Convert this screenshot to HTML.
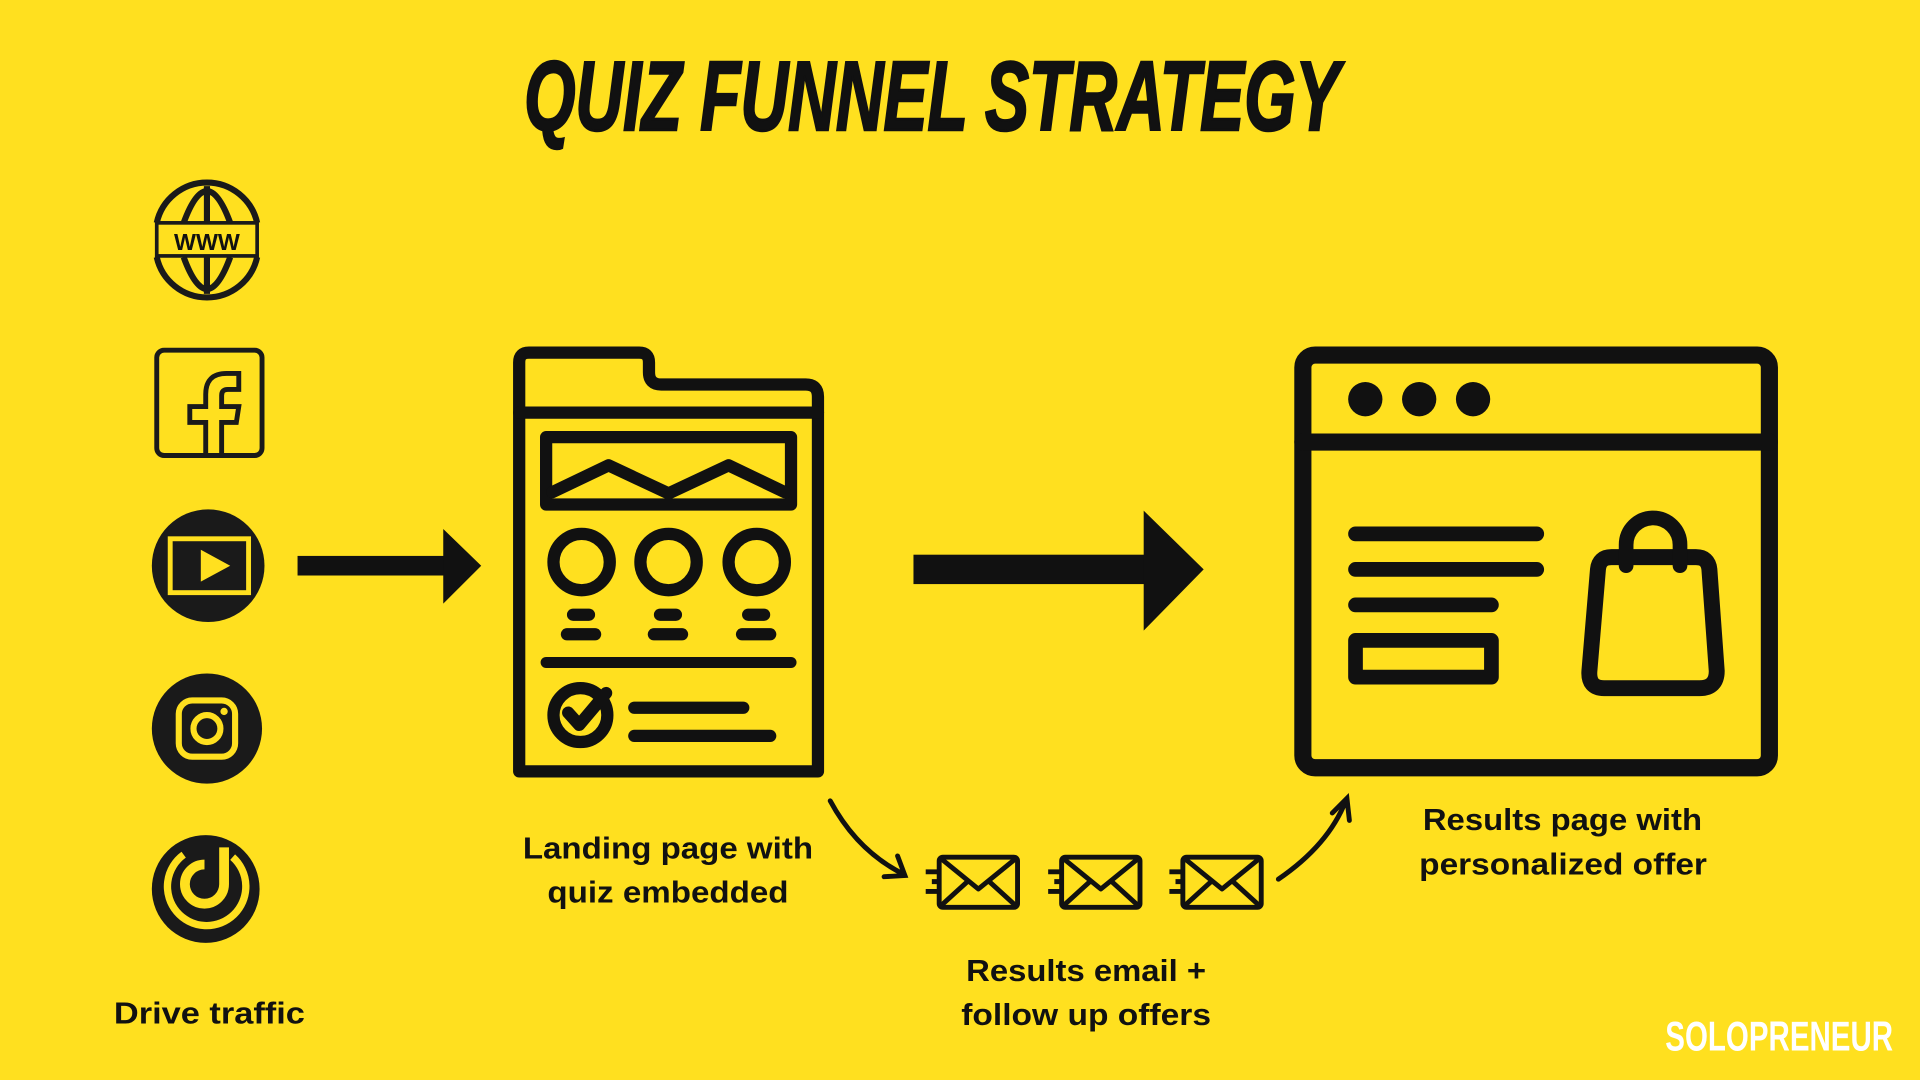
<!DOCTYPE html>
<html><head><meta charset="utf-8"><style>
html,body{margin:0;padding:0;background:#FFE01F;overflow:hidden}
svg{display:block}
text{font-family:"Liberation Sans",sans-serif;font-weight:bold;fill:#111}
</style></head><body>
<svg width="1920" height="1080" viewBox="0 0 1568 882" preserveAspectRatio="none" xmlns="http://www.w3.org/2000/svg">
<rect width="1568" height="882" fill="#FFE01F"/>
<text x="428" y="106" font-size="80" font-style="italic" textLength="666" lengthAdjust="spacingAndGlyphs" stroke="#111" stroke-width="2">QUIZ FUNNEL STRATEGY</text>

<!-- globe -->
<g fill="none" stroke="#1a1a1a" stroke-width="5">
<path d="M128 182 A42 42 0 0 1 210 182"/><path d="M128 210 A42 42 0 0 0 210 210"/>
<path d="M150 182 Q169 130 188 182"/><path d="M150 210 Q169 262 188 210"/>
<line x1="169" y1="152" x2="169" y2="182"/><line x1="169" y1="210" x2="169" y2="240"/>
<rect x="128" y="182" width="82" height="27" stroke-width="3"/>
</g>
<text x="169" y="204" font-size="19" text-anchor="middle" font-weight="normal">WWW</text>
<!-- facebook -->
<rect x="128" y="286" width="86" height="86" rx="6" fill="none" stroke="#1a1a1a" stroke-width="4"/>
<path d="M168 372 V345 H155 V332 H168 V322 Q168 305 185 305 H195 V318 H186 Q181 318 181 323 V332 H195 L193 345 H181 V372" fill="none" stroke="#1a1a1a" stroke-width="4"/>
<!-- youtube -->
<circle cx="170" cy="462" r="46" fill="#1a1a1a"/>
<rect x="139" y="440" width="64" height="44" fill="none" stroke="#FFE01F" stroke-width="4"/>
<path d="M164 449 L188 462 L164 475 Z" fill="#FFE01F"/>
<!-- instagram -->
<circle cx="169" cy="595" r="45" fill="#1a1a1a"/>
<rect x="146" y="572" width="46" height="46" rx="11" fill="none" stroke="#FFE01F" stroke-width="5"/>
<circle cx="169" cy="595" r="11" fill="none" stroke="#FFE01F" stroke-width="5"/>
<circle cx="183" cy="581" r="3" fill="#FFE01F"/>
<!-- tiktok-ish -->
<circle cx="168" cy="726" r="44" fill="#1a1a1a"/>
<path d="M183 692 V722 A16 16 0 1 1 167 706" fill="none" stroke="#FFE01F" stroke-width="8"/>
<path d="M190 700 A32 32 0 1 1 150 698" fill="none" stroke="#FFE01F" stroke-width="6"/>
<text x="93" y="836" font-size="25" textLength="156" lengthAdjust="spacingAndGlyphs">Drive traffic</text>

<!-- arrow 1 -->
<rect x="243" y="454" width="122" height="16" fill="#111"/>
<path d="M362 432 L393 462 L362 493 Z" fill="#111"/>

<!-- landing page -->
<g fill="none" stroke="#111" stroke-width="10" stroke-linejoin="round" stroke-linecap="round">
<path d="M424 630 V296 Q424 288 432 288 H522 Q530 288 530 296 V304 Q530 314 540 314 H658 Q668 314 668 324 V630 Z"/>
<line x1="424" y1="337" x2="668" y2="337"/>
<rect x="446" y="357" width="200" height="55"/>
<path d="M451 402 L497 380 L546 403 L595 380 L641 402"/>
<circle cx="475" cy="459" r="23"/><circle cx="546" cy="459" r="23"/><circle cx="618" cy="459" r="23"/>
<line x1="468" y1="502" x2="481" y2="502"/><line x1="539" y1="502" x2="552" y2="502"/><line x1="611" y1="502" x2="624" y2="502"/>
<line x1="463" y1="518" x2="486" y2="518"/><line x1="534" y1="518" x2="557" y2="518"/><line x1="606" y1="518" x2="629" y2="518"/>
<line x1="446" y1="541" x2="646" y2="541" stroke-width="9"/>
<circle cx="474" cy="584" r="22"/>
<path d="M464 582 L473 592 L495 566"/>
<line x1="518" y1="578" x2="607" y2="578"/><line x1="518" y1="601" x2="629" y2="601"/>
</g>
<text x="427" y="701" font-size="25" textLength="237" lengthAdjust="spacingAndGlyphs">Landing page with</text>
<text x="447" y="737" font-size="25" textLength="197" lengthAdjust="spacingAndGlyphs">quiz embedded</text>

<!-- big arrow -->
<rect x="746" y="453" width="192" height="24" fill="#111"/>
<path d="M934 417 L983 465 L934 515 Z" fill="#111"/>

<!-- results page -->
<g fill="none" stroke="#111" stroke-width="14" stroke-linejoin="round" stroke-linecap="round">
<rect x="1064" y="290" width="381" height="337" rx="10"/>
<line x1="1064" y1="361" x2="1445" y2="361"/>
<line x1="1107" y1="436" x2="1255" y2="436" stroke-width="12"/>
<line x1="1107" y1="465" x2="1255" y2="465" stroke-width="12"/>
<line x1="1107" y1="494" x2="1218" y2="494" stroke-width="12"/>
<rect x="1107" y="523" width="111" height="30" stroke-width="12"/>
<path d="M1305 465 Q1306 455 1316 455 H1385 Q1395 455 1396 465 L1402 548 Q1402 562 1388 562 H1310 Q1297 562 1298 548 Z" stroke-width="13"/>
<path d="M1328 462 V445 A22 22 0 0 1 1372 445 V462" stroke-width="12"/>
</g>
<circle cx="1115" cy="326" r="14" fill="#111"/><circle cx="1159" cy="326" r="14" fill="#111"/><circle cx="1203" cy="326" r="14" fill="#111"/>
<text x="1162" y="678" font-size="25" textLength="228" lengthAdjust="spacingAndGlyphs">Results page with</text>
<text x="1159" y="714" font-size="25" textLength="235" lengthAdjust="spacingAndGlyphs">personalized offer</text>

<!-- curved arrows -->
<g fill="none" stroke="#111" stroke-width="4" stroke-linecap="round">
<path d="M678 654 Q700 695 738 714"/><path d="M722 716 L739 715 L733 699"/>
<path d="M1044 718 Q1085 690 1099 654"/><path d="M1088 664 L1100 652 L1102 670"/>
</g>
<!-- envelopes -->
<g fill="none" stroke="#111" stroke-width="4" stroke-linejoin="round">
<g><rect x="767" y="700" width="64" height="41" rx="3"/><path d="M767 700 L799 726 L831 700 M767 741 L790 720 M831 741 L808 720"/><path d="M756 712 H768 M761 720 H768 M756 728 H768"/></g>
<g transform="translate(100,0)"><rect x="767" y="700" width="64" height="41" rx="3"/><path d="M767 700 L799 726 L831 700 M767 741 L790 720 M831 741 L808 720"/><path d="M756 712 H768 M761 720 H768 M756 728 H768"/></g>
<g transform="translate(199,0)"><rect x="767" y="700" width="64" height="41" rx="3"/><path d="M767 700 L799 726 L831 700 M767 741 L790 720 M831 741 L808 720"/><path d="M756 712 H768 M761 720 H768 M756 728 H768"/></g>
</g>
<text x="789" y="801" font-size="25" textLength="196" lengthAdjust="spacingAndGlyphs">Results email +</text>
<text x="785" y="837" font-size="25" textLength="204" lengthAdjust="spacingAndGlyphs">follow up offers</text>

<text x="1360" y="858" font-size="34" style="fill:#fff" textLength="186" lengthAdjust="spacingAndGlyphs">SOLOPRENEUR</text>
</svg>
</body></html>
